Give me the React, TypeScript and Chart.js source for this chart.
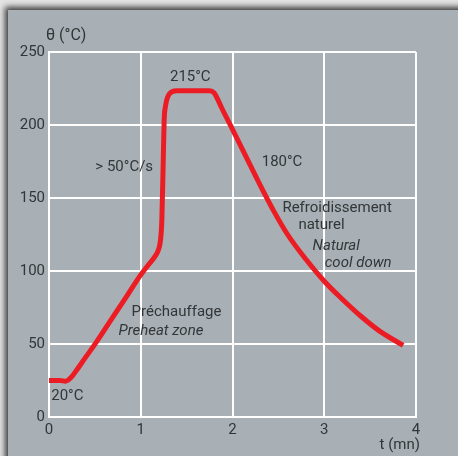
import React, { useEffect, useRef } from "react";
import { Chart, registerables } from "chart.js";

Chart.register(...registerables);

// time in minutes
const timeMin = [0, 0.12, 0.18, 0.24, 0.3, 0.4, 0.48, 0.66, 0.85, 0.99, 1.08, 1.15, 1.19, 1.215, 1.23, 1.245, 1.255, 1.27, 1.295, 1.34, 1.4, 1.75, 1.8, 1.835, 1.88, 2.0, 2.15, 2.3, 2.45, 2.6, 2.8, 3.0, 3.2, 3.4, 3.6, 3.86];
// temperature in °C
const tempC = [25, 25, 24.5, 27, 32, 41, 48, 65, 83, 96.5, 104, 109.5, 114, 121, 135, 175, 203, 213, 219.5, 222.8, 223.5, 223.5, 222, 218, 212, 197, 178, 159, 141, 125, 108, 93, 80.5, 69, 59, 49];

const xTicks = [0, 1, 2, 3, 4];
const yTicks = [0, 50, 100, 150, 200, 250];

const labelTexts = ["215°C", "> 50°C/s", "180°C", "Refroidissement", "naturel", "Natural", "cool down", "Préchauffage", "Preheat zone", "20°C"];
const labelX = [1.54, 0.82, 2.54, 3.14, 2.97, 3.13, 3.37, 1.39, 1.22, 0.2];
const labelY = [233, 171, 174.5, 143, 131.5, 117, 105.5, 72, 59, 14.5];
const labelItalic = [false, false, false, false, false, true, true, false, true, false];

const FONT = "Roboto, 'Liberation Sans', sans-serif";
const TEXT = "#333638";

const annotate = {
  id: "annotate",
  afterDraw(chart: any) {
    const ctx = chart.ctx;
    const xs = chart.scales.x;
    const ys = chart.scales.y;
    ctx.save();
    ctx.fillStyle = TEXT;
    ctx.textBaseline = "middle";
    ctx.textAlign = "center";
    for (let i = 0; i < labelTexts.length; i++) {
      ctx.font = (labelItalic[i] ? "italic " : "") + "15px " + FONT;
      ctx.fillText(labelTexts[i], xs.getPixelForValue(labelX[i]), ys.getPixelForValue(labelY[i]));
    }
    // axis titles
    ctx.font = "16px " + FONT;
    ctx.textAlign = "left";
    ctx.fillText("θ (°C)", xs.left - 3, ys.top - 16);
    ctx.font = "15px " + FONT;
    ctx.textAlign = "right";
    ctx.fillText("t (mn)", xs.right + 4, ys.bottom + 28);
    ctx.restore();
  },
};

export default function App() {
  const ref = useRef<HTMLCanvasElement>(null);
  useEffect(() => {
    if (!ref.current) return;
    const chart = new Chart(ref.current, {
      type: "scatter",
      data: {
        datasets: [
          {
            data: timeMin.map((t, i) => ({ x: t, y: tempC[i] })),
            showLine: true,
            borderColor: "#ec1c24",
            borderWidth: 5,
            pointRadius: 0,
            cubicInterpolationMode: "monotone",
            borderJoinStyle: "round",
          } as any,
        ],
      },
      options: {
        responsive: false,
        animation: false,
        layout: { padding: { top: 52, right: 42, left: 0, bottom: 0 } },
        plugins: { legend: { display: false }, tooltip: { enabled: false } },
        scales: {
          x: {
            type: "linear",
            min: 0,
            max: 4,
            afterBuildTicks: (s: any) => {
              s.ticks = xTicks.map((v) => ({ value: v }));
            },
            afterFit: (s: any) => {
              s.height = 39;
            },
            grid: { color: "#ffffff", lineWidth: 2, drawTicks: false },
            border: { color: "#ffffff", width: 2 },
            ticks: { color: TEXT, font: { family: FONT, size: 15 }, padding: 4 },
          },
          y: {
            type: "linear",
            min: 0,
            max: 250,
            afterBuildTicks: (s: any) => {
              s.ticks = yTicks.map((v) => ({ value: v }));
            },
            afterFit: (s: any) => {
              s.width = 49;
            },
            grid: { color: "#ffffff", lineWidth: 2, drawTicks: false },
            border: { color: "#ffffff", width: 2 },
            ticks: { color: TEXT, font: { family: FONT, size: 15 }, padding: 4 },
          },
        },
      },
      plugins: [annotate],
    });
    return () => chart.destroy();
  }, []);

  return (
    <div style={{ position: "fixed", left: 0, top: 0, width: 458, height: 456, background: "#e4e4e4", overflow: "hidden" }}>
      <div
        style={{
          position: "absolute",
          left: 8,
          top: 10,
          width: 460,
          height: 460,
          background: "#a8b0b5",
          boxShadow: "-3px -3px 6px rgba(0,0,0,0.75)",
        }}
      />
      <canvas ref={ref} width={458} height={456} style={{ position: "absolute", left: 0, top: 0 }} />
    </div>
  );
}
